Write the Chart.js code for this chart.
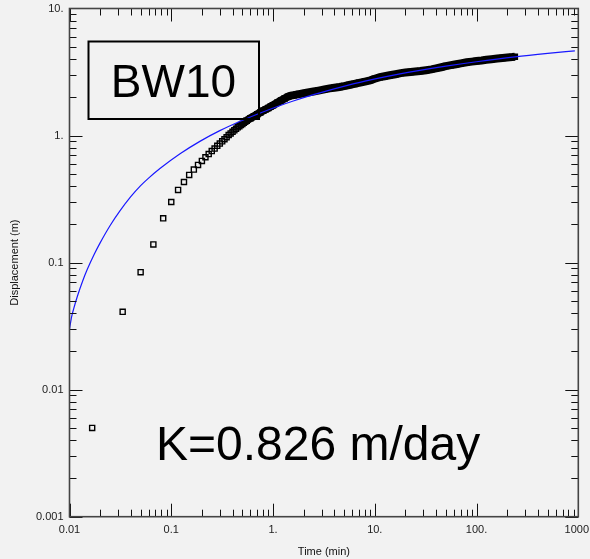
<!DOCTYPE html>
<html>
<head>
<meta charset="utf-8">
<script src="https://cdn.jsdelivr.net/npm/chart.js@4.4.1/dist/chart.umd.min.js"></script>
<style>
  html, body { margin: 0; padding: 0; background: #f2f2f2; }
  #wrap { width: 590px; height: 559px; }
</style>
</head>
<body>
<div id="wrap"><canvas id="plot" width="590" height="559"></canvas></div>
<script>
// observed displacement, first seconds (one reading per second)
const earlyTime = [0.0167, 0.0333, 0.05, 0.0667, 0.0833, 0.1, 0.1167, 0.1333, 0.15, 0.1667,
  0.1833, 0.2, 0.2167, 0.2333, 0.25, 0.2667, 0.2833, 0.3, 0.3167, 0.3333, 0.35, 0.3667,
  0.3833, 0.4, 0.4167, 0.4333, 0.45, 0.4667, 0.4833, 0.5, 0.5167, 0.5333, 0.55];
const earlyDisp = [0.005, 0.041, 0.084, 0.139, 0.223, 0.30, 0.373, 0.431, 0.49, 0.54,
  0.587, 0.631, 0.675, 0.715, 0.755, 0.79, 0.83, 0.865, 0.90, 0.935, 0.97, 1.01,
  1.04, 1.07, 1.10, 1.13, 1.16, 1.185, 1.21, 1.235, 1.26, 1.285, 1.31];

// observed displacement, later (dense readings)
const lateTime = [0.55, 0.6, 0.65, 0.7, 0.75, 0.8, 0.85, 0.9, 0.95, 1.0, 1.1, 1.2, 1.3, 1.4,
  1.5, 1.6, 1.7, 1.8, 2.0, 2.2, 2.5, 2.8, 3.2, 3.6, 4.0, 4.5, 5.0, 5.6, 6.3, 7.0, 8.0, 9.0,
  10, 11.2, 12.5, 14, 16, 18, 20, 22.5, 25, 28, 32, 36, 40, 45, 50, 56, 63, 70, 80, 90,
  100, 112, 125, 140, 160, 180, 200, 225, 238];
const lateDisp = [1.31, 1.37, 1.42, 1.47, 1.52, 1.57, 1.61, 1.65, 1.69, 1.73, 1.81, 1.89, 1.96, 2.02,
  2.06, 2.08, 2.10, 2.12, 2.15, 2.18, 2.22, 2.26, 2.31, 2.35, 2.38, 2.41, 2.45, 2.50, 2.55, 2.60, 2.66, 2.72,
  2.80, 2.88, 2.93, 2.98, 3.04, 3.10, 3.13, 3.16, 3.19, 3.22, 3.27, 3.32, 3.38, 3.45, 3.52, 3.58, 3.64, 3.70, 3.77, 3.82,
  3.86, 3.90, 3.95, 3.99, 4.04, 4.08, 4.12, 4.15, 4.17];

// fitted curve
const fitTime = [0.01, 0.0105, 0.011, 0.012, 0.0135, 0.015, 0.0175, 0.02, 0.025, 0.0313, 0.04,
  0.05, 0.0595, 0.0774, 0.122, 0.191, 0.30, 0.47, 0.74, 1.16, 1.58, 2.5, 4.54, 8, 17.7,
  27.7, 50, 100, 238, 500, 925];
const fitDisp = [0.030, 0.0376, 0.0434, 0.0548, 0.072, 0.0889, 0.1164, 0.143, 0.195, 0.255, 0.330,
  0.403, 0.46, 0.55, 0.719, 0.900, 1.093, 1.291, 1.499, 1.716, 1.870, 2.098, 2.392, 2.679, 3.054,
  3.26, 3.52, 3.81, 4.16, 4.43, 4.64];

const xTickValues = [0.01, 0.1, 1, 10, 100, 1000];
const xTickLabels = ['0.01', '0.1', '1.', '10.', '100.', '1000.'];
const yTickValues = [0.001, 0.01, 0.1, 1, 10];
const yTickLabels = ['0.001', '0.01', '0.1', '1.', '10.'];

const wellName = 'BW10';
const resultText = 'K=0.826 m/day';

const FONT = "'Liberation Sans', Arial, sans-serif";

function pairs(xs, ys) {
  return xs.map((t, i) => ({ x: t, y: ys[i] }));
}

// frame with inward ticks on all four sides
const framePlugin = {
  id: 'frame',
  afterDatasetsDraw(chart) {
    const { ctx, chartArea: a, scales: { x, y } } = chart;
    ctx.save();
    ctx.strokeStyle = '#111';
    ctx.lineWidth = 1;
    for (let d = -2; d <= 2; d++) {
      for (let m = 1; m <= 9; m++) {
        const v = m * Math.pow(10, d);
        const px = Math.round(x.getPixelForValue(v)) + 0.5;
        const len = m === 1 ? 13 : 7;
        ctx.beginPath();
        ctx.moveTo(px, a.bottom); ctx.lineTo(px, a.bottom - len);
        ctx.moveTo(px, a.top); ctx.lineTo(px, a.top + len);
        ctx.stroke();
      }
    }
    for (let d = -3; d <= 0; d++) {
      for (let m = 1; m <= 9; m++) {
        const v = m * Math.pow(10, d);
        const py = Math.round(y.getPixelForValue(v)) + 0.5;
        const len = m === 1 ? 13 : 7;
        ctx.beginPath();
        ctx.moveTo(a.left, py); ctx.lineTo(a.left + len, py);
        ctx.moveTo(a.right, py); ctx.lineTo(a.right - len, py);
        ctx.stroke();
      }
    }
    ctx.strokeStyle = '#444';
    ctx.lineWidth = 1.6;
    ctx.strokeRect(a.left, a.top, a.right - a.left, a.bottom - a.top);
    ctx.restore();
  }
};

// well name box and result text
const notesPlugin = {
  id: 'notes',
  afterDraw(chart) {
    const { ctx } = chart;
    ctx.save();
    ctx.strokeStyle = '#000';
    ctx.lineWidth = 2;
    ctx.strokeRect(88.5, 41.5, 170.5, 77.5);
    ctx.fillStyle = '#000';
    ctx.textBaseline = 'alphabetic';
    ctx.textAlign = 'center';
    ctx.font = '46px ' + FONT;
    ctx.fillText(wellName, 173.5, 97);
    ctx.textAlign = 'left';
    ctx.font = '48px ' + FONT;
    ctx.fillText(resultText, 156, 460);
    ctx.restore();
  }
};

const bgPlugin = {
  id: 'bg',
  beforeDraw(chart) {
    const { ctx, width, height } = chart;
    ctx.save();
    ctx.fillStyle = '#f2f2f2';
    ctx.fillRect(0, 0, width, height);
    ctx.restore();
  }
};

new Chart(document.getElementById('plot').getContext('2d'), {
  type: 'scatter',
  data: {
    datasets: [
      {
        label: 'Fit',
        data: pairs(fitTime, fitDisp),
        showLine: true,
        borderColor: 'rgb(25,25,255)',
        borderWidth: 1.2,
        pointRadius: 0,
        cubicInterpolationMode: 'monotone'
      },
      {
        label: 'Observed (early)',
        data: pairs(earlyTime, earlyDisp),
        showLine: false,
        pointStyle: 'rect',
        pointRadius: 3.6,
        pointBorderWidth: 1.4,
        pointBorderColor: '#000',
        pointBackgroundColor: 'rgba(0,0,0,0)'
      },
      {
        label: 'Observed (late)',
        data: pairs(lateTime, lateDisp),
        showLine: true,
        borderColor: '#000',
        borderWidth: 8,
        pointStyle: 'rect',
        pointRadius: 3.6,
        pointBorderWidth: 1.4,
        pointBorderColor: '#000',
        pointBackgroundColor: '#000'
      }
    ]
  },
  options: {
    responsive: false,
    animation: false,
    events: [],
    layout: { padding: { top: 8.5, right: 11.7, left: 0, bottom: 0 } },
    plugins: { legend: { display: false }, tooltip: { enabled: false } },
    scales: {
      x: {
        type: 'logarithmic',
        min: 0.01,
        max: 1000,
        afterBuildTicks: s => { s.ticks = xTickValues.map(v => ({ value: v })); },
        afterFit: s => { s.height = 42.3; s.paddingLeft = 0; s.paddingRight = 0; },
        grid: { display: false, drawTicks: false },
        border: { display: false },
        ticks: {
          autoSkip: false,
          maxRotation: 0,
          padding: 7,
          color: '#222',
          font: { family: FONT, size: 11 },
          callback: v => xTickLabels[xTickValues.indexOf(v)]
        },
        title: {
          display: true,
          text: 'Time (min)',
          color: '#111',
          padding: { top: 2, bottom: 0 },
          font: { family: FONT, size: 11 }
        }
      },
      y: {
        type: 'logarithmic',
        min: 0.001,
        max: 10,
        afterBuildTicks: s => { s.ticks = yTickValues.map(v => ({ value: v })); },
        afterFit: s => { s.width = 69.5; s.paddingTop = 0; s.paddingBottom = 0; },
        grid: { display: false, drawTicks: false },
        border: { display: false },
        ticks: {
          autoSkip: false,
          padding: 6,
          color: '#222',
          font: { family: FONT, size: 11 },
          callback: v => yTickLabels[yTickValues.indexOf(v)]
        },
        title: {
          display: true,
          text: 'Displacement (m)',
          color: '#111',
          padding: { top: 8, bottom: 0 },
          font: { family: FONT, size: 11 }
        }
      }
    }
  },
  plugins: [bgPlugin, framePlugin, notesPlugin]
});
</script>
</body>
</html>
